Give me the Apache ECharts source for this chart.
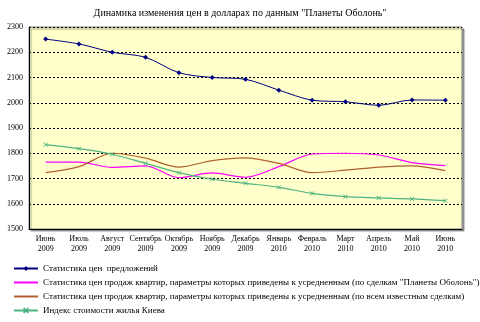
<!DOCTYPE html>
<html><head><meta charset="utf-8">
<script src="https://cdn.jsdelivr.net/npm/echarts@6/dist/echarts.min.js"></script>
<style>html,body{margin:0;padding:0;background:#fff}#c{width:480px;height:322px}</style>
</head><body><div id="c"></div>
<script>
const categories = ["Июнь\n2009","Июль\n2009","Август\n2009","Сентябрь\n2009","Октябрь\n2009","Ноябрь\n2009","Декабрь\n2009","Январь\n2010","Февраль\n2010","Март\n2010","Апрель\n2010","Май\n2010","Июнь\n2010"];
const offers = [2252,2233,2200,2180,2119,2100,2093,2050,2010,2004,1990,2011,2010];
const obolonDeals = [1765,1765,1744,1750,1703,1722,1705,1747,1797,1800,1793,1763,1751];
const allDeals = [1723,1747,1800,1781,1745,1771,1782,1760,1723,1733,1745,1750,1731];
const kievIndex = [1834,1818,1796,1760,1723,1697,1681,1665,1641,1628,1623,1619,1612];
const names = ["Статистика цен  предложений",
 "Статистика цен продаж квартир, параметры которых приведены к усредненным (по сделкам \"Планеты Оболонь\")",
 "Статистика цен продаж квартир, параметры которых приведены к усредненным (по всем известным сделкам)",
 "Индекс стоимости жилья Киева"];
const font = "Liberation Serif";
const chart = echarts.init(document.getElementById('c'));
chart.setOption({
  animation:false,
  textStyle:{fontFamily:font,color:'#000'},
  title:{text:"Динамика изменения цен в долларах по данным \"Планеты Оболонь\"",left:'center',top:3,
    textStyle:{fontFamily:font,fontSize:10,fontWeight:'normal',color:'#000'}},
  grid:{left:29,right:18,top:27,bottom:93,show:true,backgroundColor:'#FFFFCC',borderColor:'#808080',borderWidth:1,
    shadowColor:'rgba(0,0,0,0.35)',shadowOffsetX:2,shadowOffsetY:2,shadowBlur:1},
  legend:{orient:'vertical',left:8,top:259,itemGap:5,itemWidth:24,itemHeight:6,
    textStyle:{fontFamily:font,fontSize:9,color:'#000'},
    data:[{name:names[0]},{name:names[1],itemStyle:{opacity:0}},{name:names[2],itemStyle:{opacity:0}},{name:names[3]}]},
  xAxis:{type:'category',data:categories,boundaryGap:true,
    axisLine:{lineStyle:{color:'#000'}},axisTick:{show:false},
    axisLabel:{interval:0,fontSize:8,fontFamily:font,color:'#000',lineHeight:10,margin:5}},
  yAxis:{type:'value',min:1500,max:2300,interval:100,
    axisLine:{show:true,lineStyle:{color:'#000'}},axisTick:{show:false},
    axisLabel:{fontSize:8,fontFamily:font,color:'#000',margin:6,formatter:v=>String(v)},
    splitLine:{lineStyle:{color:'#000',type:[2,2],width:1}}},
  series:[
    {name:names[0],type:'line',data:offers,smooth:0.3,symbol:'diamond',symbolSize:5,
      lineStyle:{color:'#000080',width:1},itemStyle:{color:'#000080'}},
    {name:names[1],type:'line',data:obolonDeals,smooth:0.3,symbol:'none',showSymbol:false,
      lineStyle:{color:'#FF00FF',width:1.2},itemStyle:{color:'#FF00FF'}},
    {name:names[2],type:'line',data:allDeals,smooth:0.3,symbol:'none',showSymbol:false,
      lineStyle:{color:'#B0602E',width:1.2},itemStyle:{color:'#B0602E'}},
    {name:names[3],type:'line',data:kievIndex,smooth:0.3,
      symbol:'path://M0,0L10,10M10,0L0,10',symbolSize:4,
      lineStyle:{color:'#4DB380',width:1.2},itemStyle:{color:'#4DB380',borderColor:'#4DB380',borderWidth:1}}
  ]
});
</script></body></html>
